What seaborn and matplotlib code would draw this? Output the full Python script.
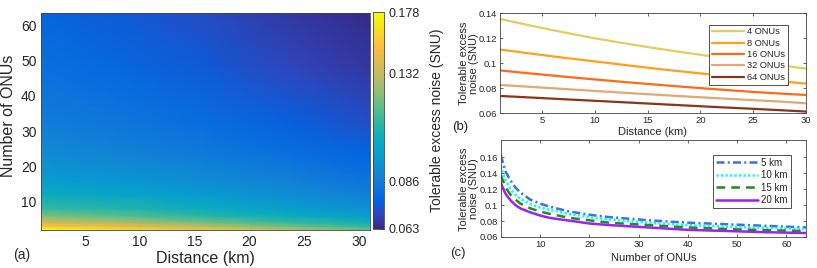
import matplotlib
matplotlib.use("Agg")
import matplotlib.pyplot as plt
from matplotlib.colors import LinearSegmentedColormap
from matplotlib.ticker import FuncFormatter
import pandas as pd
import seaborn as sns

# ---------------- data ----------------
# (a) tolerable excess noise map, rows = number of ONUs, cols = distance (km)
heat_dist = [1, 8, 16, 24, 31]
heat_onus = [2, 3, 4, 6, 8, 12, 16, 24, 32, 48, 64]
heat_snu = [
    [0.178, 0.170, 0.160, 0.145, 0.130],
    [0.163, 0.155, 0.143, 0.130, 0.120],
    [0.150, 0.143, 0.132, 0.121, 0.113],
    [0.133, 0.127, 0.118, 0.109, 0.103],
    [0.121, 0.117, 0.110, 0.103, 0.097],
    [0.110, 0.106, 0.101, 0.095, 0.090],
    [0.102, 0.099, 0.095, 0.090, 0.085],
    [0.094, 0.091, 0.087, 0.082, 0.078],
    [0.089, 0.086, 0.082, 0.077, 0.073],
    [0.083, 0.080, 0.076, 0.071, 0.067],
    [0.079, 0.076, 0.072, 0.067, 0.063],
]
cbar_ticks = [0.063, 0.088, 0.1457, 0.178]
cbar_labels = ["0.063", "0.086", "0.132", "0.178"]

# (b) noise vs distance for several ONU counts
dist_km = [1, 4, 7, 10, 13, 16, 19, 22, 25, 28, 30]
snu_4onu = [0.1355, 0.1300, 0.1248, 0.1200, 0.1157, 0.1117, 0.1080, 0.1045, 0.1012, 0.0980, 0.0958]
snu_8onu = [0.1110, 0.1077, 0.1045, 0.1015, 0.0985, 0.0955, 0.0928, 0.0902, 0.0877, 0.0853, 0.0838]
snu_16onu = [0.0943, 0.0918, 0.0894, 0.0871, 0.0849, 0.0828, 0.0808, 0.0789, 0.0771, 0.0756, 0.0747]
snu_32onu = [0.0827, 0.0811, 0.0795, 0.0779, 0.0763, 0.0748, 0.0733, 0.0719, 0.0705, 0.0692, 0.0680]
snu_64onu = [0.0739, 0.0726, 0.0713, 0.0700, 0.0687, 0.0674, 0.0661, 0.0648, 0.0636, 0.0623, 0.0614]
onu_names = ["4 ONUs", "8 ONUs", "16 ONUs", "32 ONUs", "64 ONUs"]

# (c) noise vs number of ONUs for several distances
n_onus = [2, 3, 4, 5, 6, 8, 10, 12, 16, 20, 24, 32, 40, 48, 56, 64]
snu_5km = [0.163, 0.142, 0.131, 0.122, 0.116, 0.107, 0.102, 0.098, 0.092, 0.088, 0.085, 0.081, 0.078, 0.076, 0.074, 0.072]
snu_10km = [0.149, 0.131, 0.120, 0.113, 0.108, 0.1015, 0.097, 0.094, 0.0887, 0.085, 0.082, 0.078, 0.075, 0.073, 0.0715, 0.070]
snu_15km = [0.138, 0.122, 0.113, 0.107, 0.102, 0.096, 0.092, 0.089, 0.084, 0.081, 0.078, 0.075, 0.072, 0.070, 0.0685, 0.0675]
snu_20km = [0.128, 0.114, 0.106, 0.100, 0.096, 0.091, 0.087, 0.084, 0.0805, 0.077, 0.075, 0.072, 0.069, 0.0675, 0.066, 0.065]
km_names = ["5 km", "10 km", "15 km", "20 km"]

# ---------------- style ----------------
sns.set_style("ticks")
plt.rcParams["font.family"] = ["Liberation Sans", "DejaVu Sans"]
txt = "#262626"
plt.rcParams.update({
    "axes.edgecolor": "#444444", "axes.linewidth": 0.6,
    "xtick.color": txt, "ytick.color": txt, "text.color": txt,
    "axes.labelcolor": txt, "xtick.direction": "in", "ytick.direction": "in",
})

parula = LinearSegmentedColormap.from_list("parula", [
    (0 / 63, (0.2081, 0.1663, 0.5292)), (4 / 63, (0.1959, 0.2645, 0.7279)),
    (8 / 63, (0.0117, 0.3875, 0.8820)), (12 / 63, (0.0498, 0.4586, 0.8641)),
    (16 / 63, (0.0793, 0.5200, 0.8312)), (20 / 63, (0.0343, 0.5966, 0.8199)),
    (24 / 63, (0.0228, 0.6535, 0.7768)), (28 / 63, (0.0843, 0.6928, 0.7062)),
    (32 / 63, (0.2178, 0.7250, 0.6193)), (36 / 63, (0.3953, 0.7459, 0.5244)),
    (40 / 63, (0.5709, 0.7485, 0.4494)), (44 / 63, (0.7184, 0.7411, 0.3905)),
    (48 / 63, (0.8507, 0.7299, 0.3360)), (52 / 63, (0.9739, 0.7314, 0.2666)),
    (56 / 63, (0.9880, 0.8066, 0.1794)), (60 / 63, (0.9598, 0.9218, 0.0948)),
    (63 / 63, (0.9763, 0.9831, 0.0538)),
])

fig = plt.figure(figsize=(8.17, 2.68), dpi=100)
ax_a = fig.add_axes([0.0506, 0.1418, 0.4023, 0.8108])
cax = fig.add_axes([0.4569, 0.1466, 0.0131, 0.8075])
ax_b = fig.add_axes([0.612, 0.5772, 0.3745, 0.3731])
ax_c = fig.add_axes([0.6129, 0.1157, 0.3737, 0.3619])

# ---------------- (a) ----------------
mesh = ax_a.pcolormesh(heat_dist, heat_onus, heat_snu, cmap=parula,
                       shading="gouraud", vmin=0.063, vmax=0.178)
ax_a.set_xlim(1, 31)
ax_a.set_ylim(2, 63.5)
ax_a.set_xticks([5, 10, 15, 20, 25, 30])
ax_a.set_yticks([10, 20, 30, 40, 50, 60])
ax_a.tick_params(labelsize=10, length=3, width=0.5, top=True, right=True)
ax_a.set_xlabel("Distance (km)", fontsize=11.5, va="center")
ax_a.set_ylabel("Number of ONUs", fontsize=11.5, va="center")
ax_a.xaxis.set_label_coords(0.498, -0.13)
ax_a.yaxis.set_label_coords(-0.101, 0.525)

cb = fig.colorbar(mesh, cax=cax)
cb.set_ticks(cbar_ticks)
cb.set_ticklabels(cbar_labels)
cb.ax.tick_params(labelsize=9, length=3, width=0.5, direction="in")
cb.outline.set_linewidth(0.6)
cb.set_label("Tolerable excess noise (SNU)", fontsize=10, va="center")
cb.ax.yaxis.set_label_coords(5.93, 0.5)

fig.text(0.0266, 0.0485, "(a)", fontsize=10, ha="center", va="center")
fig.text(0.563, 0.527, "(b)", fontsize=9.5, ha="center", va="center")
fig.text(0.5606, 0.056, "(c)", fontsize=9.5, ha="center", va="center")

fmt = FuncFormatter(lambda v, p: f"{v:g}")

# ---------------- (b) ----------------
df_b = pd.DataFrame({
    "Distance": dist_km * 5,
    "SNU": snu_4onu + snu_8onu + snu_16onu + snu_32onu + snu_64onu,
    "Series": [n for n in onu_names for _ in dist_km],
})
pal_b = ["#E6CC5A", "#FF9F1C", "#FF6A14", "#DFA875", "#8B3418"]
sns.lineplot(data=df_b, x="Distance", y="SNU", hue="Series", hue_order=onu_names,
             palette=pal_b, linewidth=1.6, legend=False, ax=ax_b)
ax_b.set_xlim(1, 30)
ax_b.set_ylim(0.06, 0.14)
ax_b.set_xticks([5, 10, 15, 20, 25, 30])
ax_b.set_yticks([0.06, 0.08, 0.10, 0.12, 0.14])
ax_b.yaxis.set_major_formatter(fmt)
ax_b.tick_params(labelsize=6.8, length=2.5, width=0.5, top=True, right=True, pad=2)
ax_b.set_xlabel("Distance (km)", fontsize=8, va="center")
ax_b.set_ylabel("Tolerable excess\nnoise (SNU)", fontsize=8, va="center",
                linespacing=1.0)
ax_b.xaxis.set_label_coords(0.5, -0.184)
ax_b.yaxis.set_label_coords(-0.1, 0.5)
leg_b = ax_b.legend(ax_b.get_lines(), onu_names, loc="upper right",
                    bbox_to_anchor=(0.957, 0.933), fontsize=6.7, fancybox=False,
                    framealpha=1, edgecolor="#333333", handlelength=3.4,
                    handletextpad=0.4, labelspacing=0.25, borderpad=0.3)
leg_b.get_frame().set_linewidth(0.6)

# ---------------- (c) ----------------
df_c = pd.DataFrame({
    "ONUs": n_onus * 4,
    "SNU": snu_5km + snu_10km + snu_15km + snu_20km,
    "Series": [n for n in km_names for _ in n_onus],
})
pal_c = ["#3F6FE0", "#00FFFF", "#1E8C1E", "#A020F0"]
dash_c = {"5 km": (3.2, 1.3, 0.8, 1.3), "10 km": (0.9, 0.9),
          "15 km": (3.5, 2.4), "20 km": ""}
sns.lineplot(data=df_c, x="ONUs", y="SNU", hue="Series", hue_order=km_names,
             style="Series", style_order=km_names, dashes=dash_c,
             palette=pal_c, linewidth=1.8, legend=False, ax=ax_c)
ax_c.set_xlim(2, 64)
ax_c.set_ylim(0.06, 0.182)
ax_c.set_xticks([10, 20, 30, 40, 50, 60])
ax_c.set_yticks([0.06, 0.08, 0.10, 0.12, 0.14, 0.16])
ax_c.yaxis.set_major_formatter(fmt)
ax_c.tick_params(labelsize=6.8, length=2.5, width=0.5, top=True, right=True, pad=2)
ax_c.set_xlabel("Number of ONUs", fontsize=8, va="center")
ax_c.set_ylabel("Tolerable excess\nnoise (SNU)", fontsize=8, va="center",
                linespacing=1.0)
ax_c.xaxis.set_label_coords(0.5, -0.213)
ax_c.yaxis.set_label_coords(-0.103, 0.495)
leg_c = ax_c.legend(ax_c.get_lines(), km_names, loc="upper right",
                    bbox_to_anchor=(0.966, 0.897), fontsize=7, fancybox=False,
                    framealpha=1, edgecolor="#333333", handlelength=4.4,
                    handletextpad=0.3, labelspacing=0.25, borderpad=0.3)
leg_c.get_frame().set_linewidth(0.6)

fig.savefig("out.png", dpi=100)
